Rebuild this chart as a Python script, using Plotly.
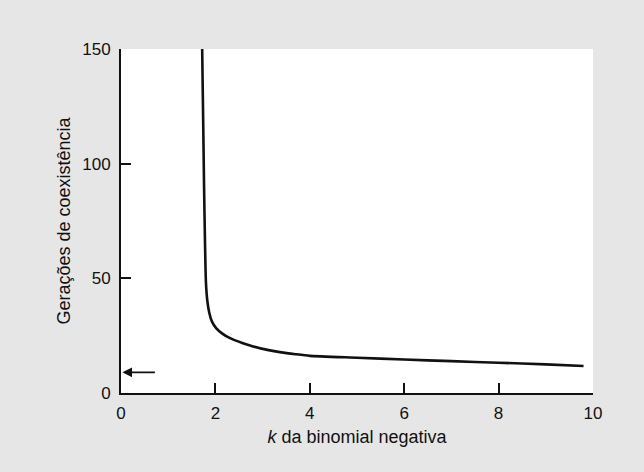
import plotly.graph_objects as go

# Data
k_values = [1.72, 1.74, 1.76, 1.78, 1.80, 1.83, 1.87, 1.93, 2.02, 2.14, 2.3, 2.57, 2.8,
            3.1, 3.4, 3.7, 4.0, 5.0, 6.0, 7.0, 8.0, 9.0, 9.8]
generations = [150, 120, 90, 65, 48, 40, 35, 31, 28.2, 26, 24, 21.8, 20.3,
               18.8, 17.7, 16.9, 16.2, 15.4, 14.6, 13.9, 13.2, 12.5, 11.8]
arrow_level = 9
arrow_from_k = 0.75
arrow_to_k = 0.03
x_ticks = [0, 2, 4, 6, 8, 10]
y_ticks = [0, 50, 100, 150]

FONT = "Liberation Sans, Arial, Helvetica, sans-serif"

fig = go.Figure()
fig.add_trace(go.Scatter(
    x=k_values, y=generations, mode="lines",
    line=dict(color="#111111", width=2.6, shape="spline", smoothing=0.5),
    showlegend=False, hoverinfo="skip",
))

fig.add_annotation(
    x=arrow_to_k, y=arrow_level, ax=arrow_from_k, ay=arrow_level,
    xref="x", yref="y", axref="x", ayref="y",
    showarrow=True, arrowhead=2, arrowsize=1.2, arrowwidth=1.6,
    arrowcolor="#111111", text="",
)

axis_common = dict(
    showgrid=False, zeroline=False, showline=True, linecolor="#111111",
    linewidth=2, ticks="inside", ticklen=10, tickwidth=2, tickcolor="#111111",
    tickfont=dict(family=FONT, size=17, color="#111111"),
)

fig.update_xaxes(
    range=[0, 10], tickvals=x_ticks, ticktext=[str(v) for v in x_ticks],
    title=dict(text="<i>k</i> da binomial negativa",
               font=dict(family=FONT, size=18, color="#111111"), standoff=8),
    ticklabelstandoff=4,
    **axis_common,
)
fig.update_yaxes(
    range=[0, 150], tickvals=y_ticks, ticktext=[str(v) for v in y_ticks],
    title=dict(text="Gerações de coexistência",
               font=dict(family=FONT, size=18, color="#111111"), standoff=7),
    ticklabelstandoff=5,
    **axis_common,
)

fig.update_layout(
    width=644, height=472,
    margin=dict(l=121, r=51, t=49, b=79),
    paper_bgcolor="#e6e6e6",
    plot_bgcolor="#ffffff",
    font=dict(family=FONT, color="#111111"),
)

fig.write_html("out.html")
